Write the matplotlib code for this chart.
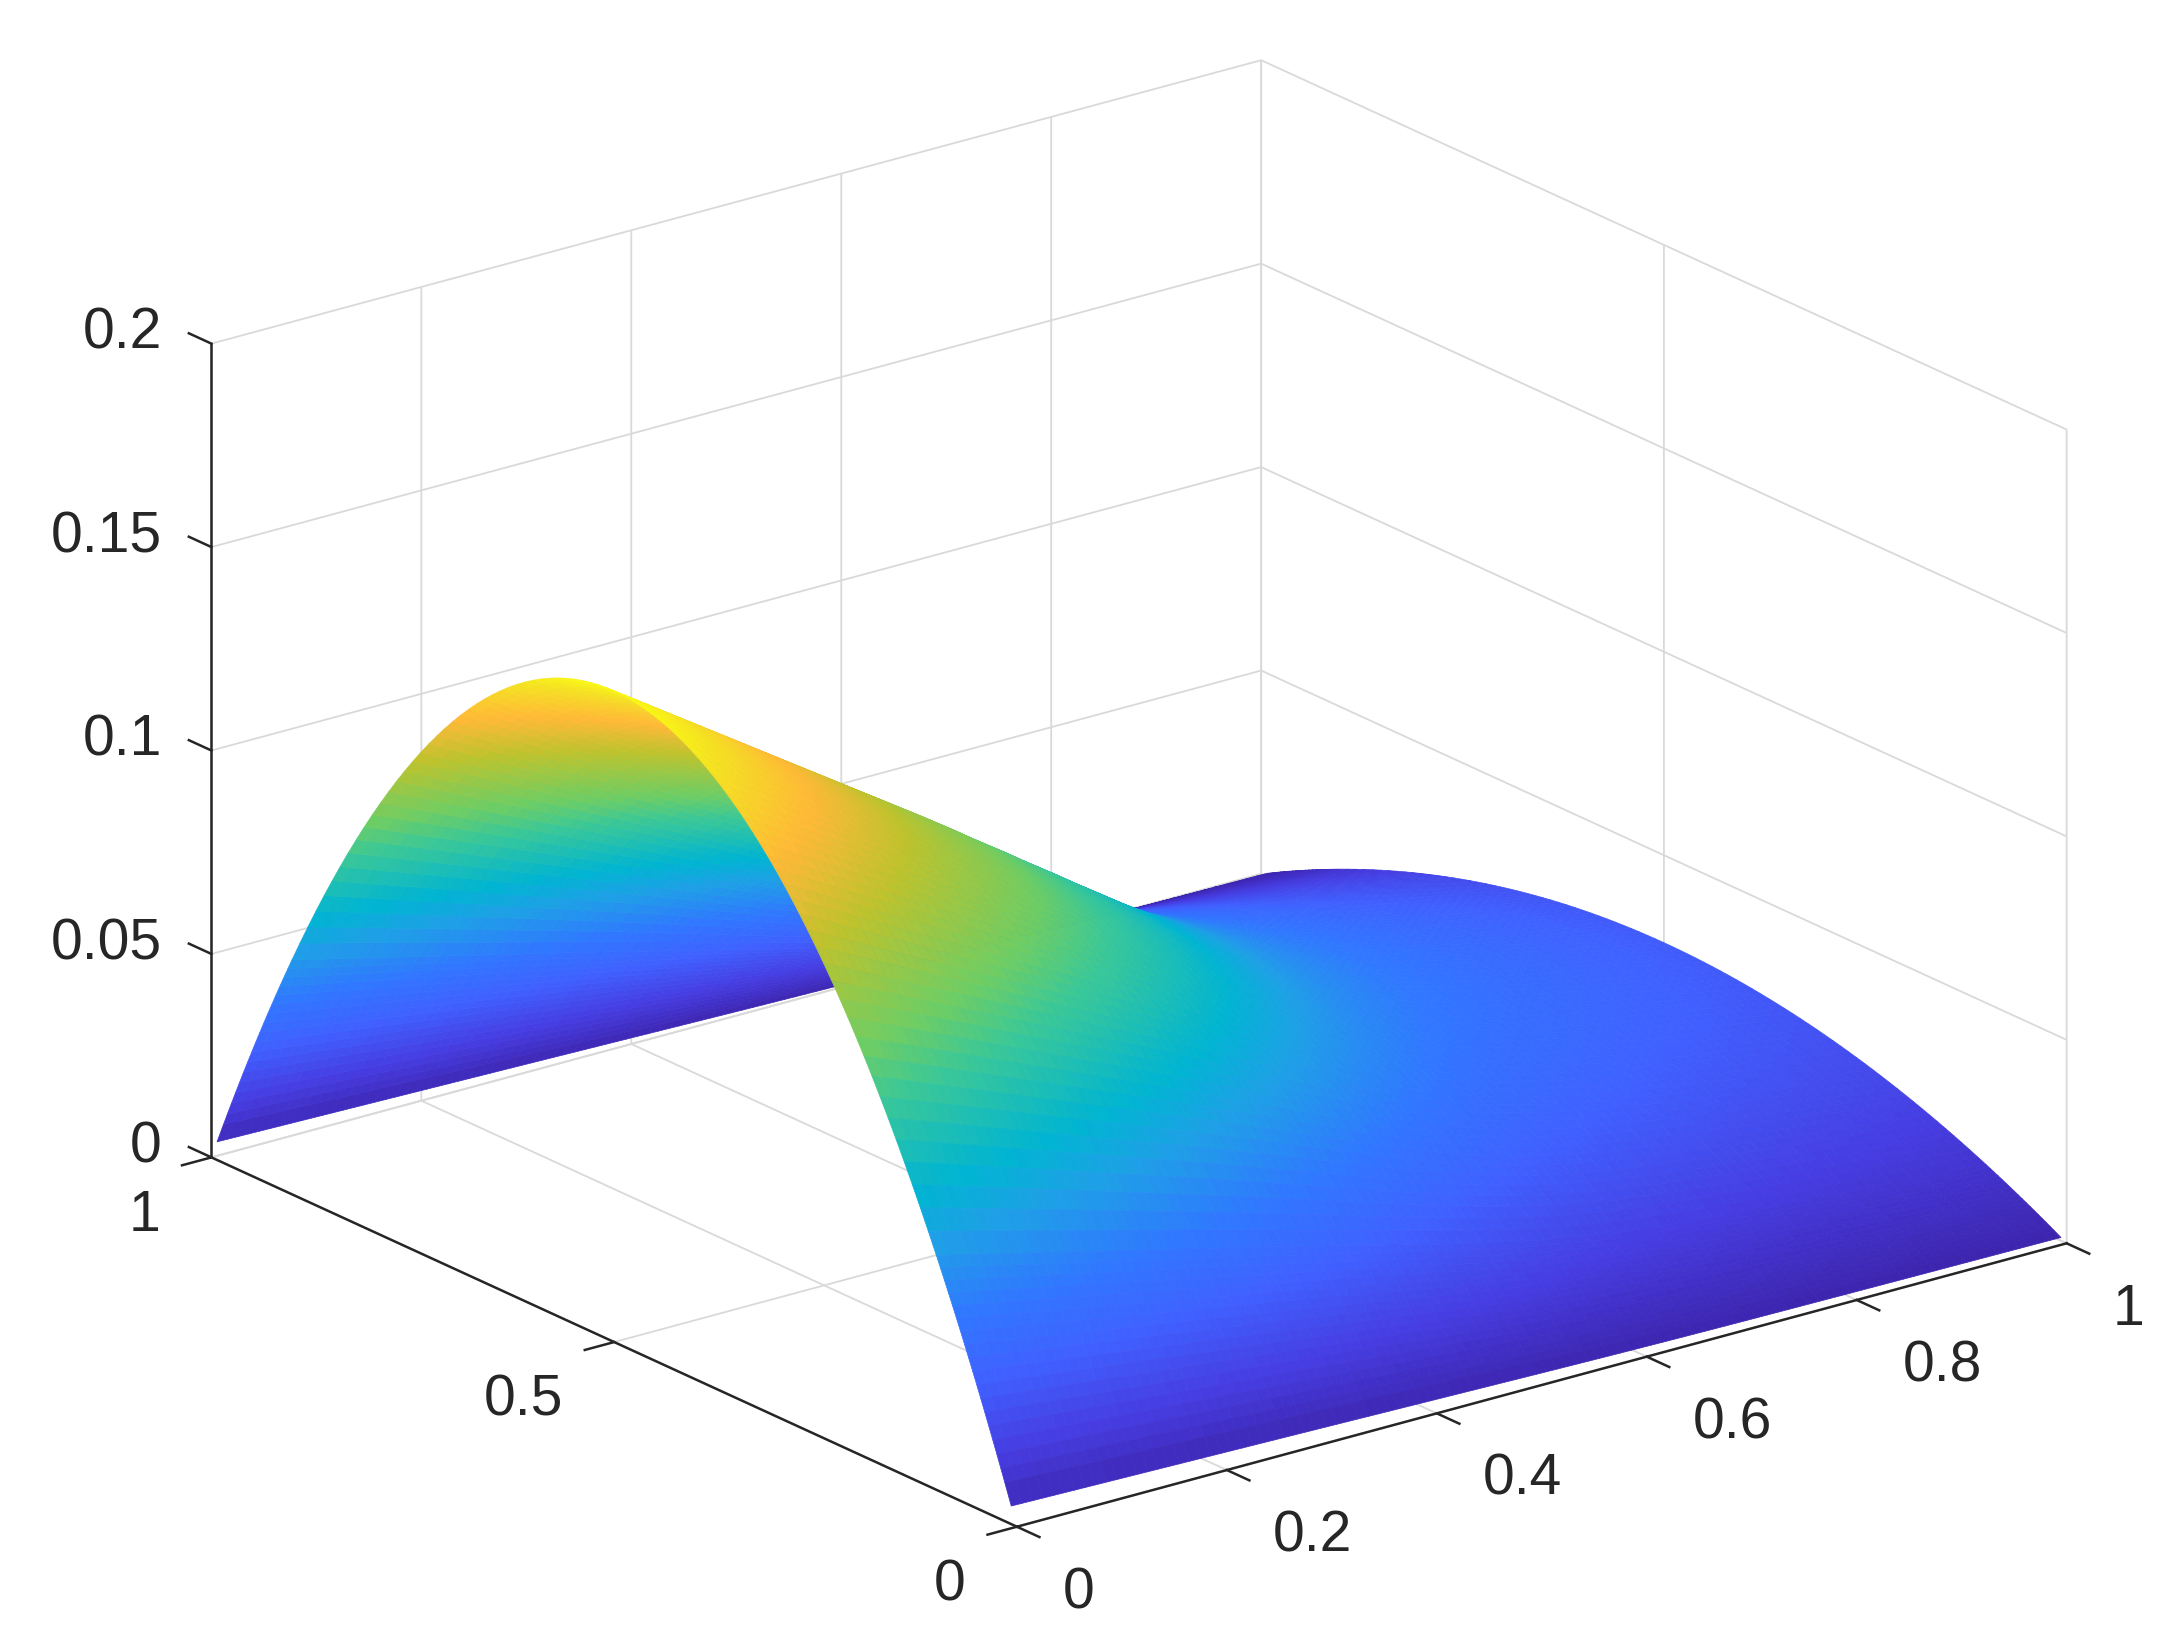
import numpy as np
import matplotlib
matplotlib.use('Agg')
import matplotlib.pyplot as plt
from matplotlib.colors import LinearSegmentedColormap, Normalize
from matplotlib.transforms import Affine2D

# y positions across the ridge, closer together near the two edges
y_grid = [
    .007, .015, .02, .025, .03, .035, .04, .045, .05, .055, .06, .065, .07, .075, .08, .085, .09, .095,
    .10, .11, .12, .13, .14, .15, .16, .17, .18, .19, .20, .21, .22, .23, .24, .25, .26, .27, .28, .29,
    .30, .31, .32, .33, .34, .35, .36, .37, .38, .39, .40, .41, .42, .43, .44, .45, .46, .47, .48, .49,
    .50, .51, .52, .53, .54, .55, .56, .57, .58, .59, .60, .61, .62, .63, .64, .65, .66, .67, .68, .69,
    .70, .71, .72, .73, .74, .75, .76, .77, .78, .79, .80, .81, .82, .83, .84, .85, .86, .87, .88, .89,
    .90, .905, .91, .915, .92, .925, .93, .935, .94, .945, .95, .955, .96, .965, .97, .975, .98, .985, .993,
]
y_profile = [
    .0278, .0591, .0784, .0975, .1164, .1351, .1536, .1719, .19, .2079, .2256, .2431, .2604, .2775, .2944, .3111, .3276, .3439,
    .36, .3916, .4224, .4524, .4816, .51, .5376, .5644, .5904, .6156, .64, .6636, .6864, .7084, .7296, .75, .7696, .7884, .8064, .8236,
    .84, .8556, .8704, .8844, .8976, .91, .9216, .9324, .9424, .9516, .96, .9676, .9744, .9804, .9856, .99, .9936, .9964, .9984, .9996,
    1.0, .9996, .9984, .9964, .9936, .99, .9856, .9804, .9744, .9676, .96, .9516, .9424, .9324, .9216, .91, .8976, .8844, .8704, .8556,
    .84, .8236, .8064, .7884, .7696, .75, .7296, .7084, .6864, .6636, .64, .6156, .5904, .5644, .5376, .51, .4816, .4524, .4224, .3916,
    .36, .3439, .3276, .3111, .2944, .2775, .2604, .2431, .2256, .2079, .19, .1719, .1536, .1351, .1164, .0975, .0784, .0591, .0278,
]

# ridge height along x = 0, 0.01 ... 1
ridge_height = [
    .16000, .15825, .1565, .15475, .1530, .15125, .1495, .14775, .1460, .14425,
    .1425, .14075, .1390, .13725, .1355, .13375, .1320, .13025, .1285, .12675,
    .1250, .12325, .1215, .11975, .1180, .11625, .1145, .11275, .1110, .10925,
    .1075, .1057, .1039, .1021, .1002, .0984, .0966, .0948, .0930, .0911,
    .0893, .0875, .0857, .0839, .0820, .0802, .0784, .0766, .0748, .0730,
    .0712, .0695, .0678, .0662, .0646, .0630, .0615, .0600, .0586, .0572,
    .0559, .0546, .0534, .0523, .0512, .0502, .0492, .0483, .0474, .0466,
    .0458, .0451, .0444, .0437, .0430, .0424, .0418, .0411, .0405, .0398,
    .0392, .0386, .0380, .0374, .0369, .0363, .0358, .0353, .0348, .0343,
    .0338, .0333, .0328, .0323, .0318, .0313, .0307, .0302, .0297, .0291,
    .0285,
]
x_grid = np.arange(101) / 100

x_ticks = [0, 0.2, 0.4, 0.6, 0.8, 1]
x_tick_labels = ['0', '0.2', '0.4', '0.6', '0.8', '1']
y_ticks = [0, 0.5, 1]
y_tick_labels = ['0', '0.5', '1']
z_ticks = [0, 0.05, 0.1, 0.15, 0.2]
z_tick_labels = ['0', '0.05', '0.1', '0.15', '0.2']

# colours, bottom to top
cmap = LinearSegmentedColormap.from_list('parula_like', [
    (0.000, (60/255, 35/255, 170/255)),
    (0.095, (70/255, 60/255, 225/255)),
    (0.190, (64/255, 96/255, 255/255)),
    (0.280, (48/255, 120/255, 255/255)),
    (0.375, (30/255, 160/255, 230/255)),
    (0.440, (0/255, 180/255, 210/255)),
    (0.560, (60/255, 200/255, 150/255)),
    (0.625, (110/255, 205/255, 100/255)),
    (0.750, (190/255, 195/255, 45/255)),
    (0.845, (255/255, 185/255, 55/255)),
    (0.940, (245/255, 225/255, 35/255)),
    (1.000, (250/255, 250/255, 20/255)),
])

plt.rcParams['font.family'] = ['Liberation Sans', 'DejaVu Sans']
plt.rcParams['grid.color'] = '#d9d9d9'
plt.rcParams['grid.linewidth'] = 1.3

DARK = '#262626'

fig = plt.figure(figsize=(21.84, 16.52), dpi=100)
ax = fig.add_axes([-93.4 / 2184, -373.9 / 1652, 2400 / 2184, 2400 / 1652],
                  projection='3d', proj_type='ortho')
ax.view_init(elev=20.6, azim=-127.5)
ax.set_box_aspect((1, 1, 0.657), zoom=0.8346)

X, Y = np.meshgrid(x_grid, y_grid)
Z = np.outer(y_profile, ridge_height)

facet_z = (Z[:-1, :-1] + Z[1:, :-1] + Z[:-1, 1:] + Z[1:, 1:]) / 4
facet_colors = cmap(Normalize(0, 0.16)(facet_z))
surf = ax.plot_surface(X, Y, Z, rstride=1, cstride=1, facecolors=facet_colors,
                       shade=False, linewidth=0.5)
surf.set_edgecolor(facet_colors.reshape(-1, 4))

ax.set_xlim(0, 1)
ax.set_ylim(0, 1)
ax.set_zlim(0, 0.2)
ax.set_xticks(x_ticks, x_tick_labels)
ax.set_yticks(y_ticks, y_tick_labels)
ax.set_zticks(z_ticks, z_tick_labels)
ax.zaxis.set_ticks_position('upper')

# z ticks run along y in the reference
ax.zaxis._get_tickdir = lambda pos=None: 1

# Axis3D resets the label transform on every get_major_ticks call, so the
# pixel offset goes on get_transform of each label instead
label_style = {'x': ('left', 39, -29), 'y': ('right', -42, -22), 'z': ('right', -33, 36)}
for axis, name in zip((ax.xaxis, ax.yaxis, ax.zaxis), 'xyz'):
    axis.set_pane_color((1, 1, 1, 0))
    axis.pane.set_edgecolor('#d9d9d9')
    axis.line.set_color(DARK)
    axis.line.set_linewidth(1.8)
    axis._axinfo['tick']['outward_factor'] = 0.35 if name == 'z' else 0
    axis._axinfo['tick']['inward_factor'] = 0 if name == 'z' else 0.35
    axis._axinfo['tick']['linewidth'] = {True: 1.8, False: 1.8}
    axis._axinfo['tick']['color'] = DARK
    axis.set_tick_params(labelsize=41, labelcolor=DARK, pad=0, color=DARK)
    ha, dx, dy = label_style[name]
    shifted = ax.transData + Affine2D().translate(dx, dy)
    for tick in axis.get_major_ticks():
        tick.label1.set_ha(ha)
        tick.label1.get_transform = lambda t=shifted: t

fig.savefig('out.png', dpi=100)
